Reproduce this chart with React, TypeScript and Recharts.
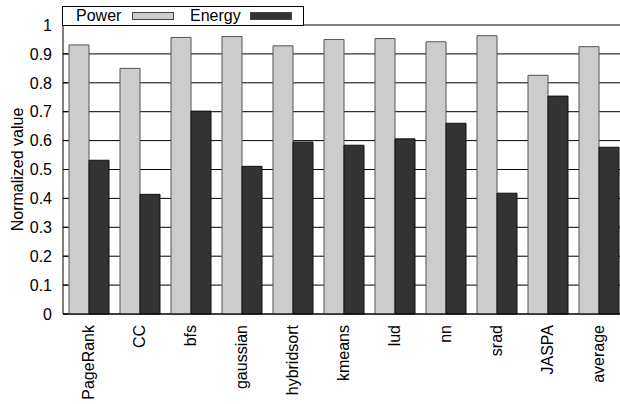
import React from 'react';
import { BarChart, Bar, XAxis, YAxis, CartesianGrid, Label } from 'recharts';

const categories = ['PageRank', 'CC', 'bfs', 'gaussian', 'hybridsort', 'kmeans', 'lud', 'nn', 'srad', 'JASPA', 'average'];
const powerValues = [0.931, 0.85, 0.957, 0.96, 0.928, 0.95, 0.953, 0.942, 0.963, 0.826, 0.925];
const energyValues = [0.532, 0.414, 0.702, 0.511, 0.595, 0.584, 0.606, 0.66, 0.418, 0.754, 0.577];
const yTicks = [0, 0.1, 0.2, 0.3, 0.4, 0.5, 0.6, 0.7, 0.8, 0.9, 1];
const seriesNames = ['Power', 'Energy'];

const FONT = '"Liberation Sans", Arial, Helvetica, sans-serif';
const FS = 16;
const POWER_FILL = '#cccccc';
const ENERGY_FILL = '#333333';

const data = categories.map((name, i) => ({
  name,
  power: powerValues[i],
  energy: energyValues[i],
}));

// rotated category labels hanging below the axis
const XTick = (props: any) => {
  const { x, y, payload } = props;
  return (
    <g transform={`translate(${x},${y + 11})`}>
      <text transform="rotate(-90)" textAnchor="end" dy="0.36em" fontSize={FS} fontFamily={FONT} fill="#000">
        {payload.value}
      </text>
    </g>
  );
};

const YTick = (props: any) => {
  const { x, y, payload } = props;
  return (
    <text x={x} y={y} textAnchor="end" dy="0.36em" fontSize={FS} fontFamily={FONT} fill="#000">
      {String(payload.value)}
    </text>
  );
};

const YLabel = (props: any) => {
  const vb = props.viewBox || { y: 25, height: 289 };
  const cy = vb.y + vb.height / 2;
  return (
    <text x={17} y={cy} transform={`rotate(-90, 17, ${cy})`} textAnchor="middle" dominantBaseline="central" fontSize={FS} fontFamily={FONT} fill="#000">
      Normalized value
    </text>
  );
};

const App: React.FC = () => {
  return (
    <div style={{ position: 'absolute', left: 0, top: 0, width: 620, height: 404, overflow: 'hidden', background: '#fff' }}>
      {/* legend box, gnuplot style, sitting on top of the plot frame */}
      <div
        style={{
          position: 'absolute', left: 62, top: 6, width: 240, height: 18,
          border: '1px solid #000', boxSizing: 'content-box',
          fontFamily: FONT, fontSize: FS, lineHeight: '18px', zIndex: 2, background: '#fff',
        }}
      >
        {seriesNames.map((s, i) => (
          <React.Fragment key={s}>
            <span style={{ position: 'absolute', left: i === 0 ? 13 : 127, top: 0 }}>{s}</span>
            <span
              style={{
                position: 'absolute', left: i === 0 ? 69 : 187, top: 5, width: 40, height: 6,
                background: i === 0 ? POWER_FILL : ENERGY_FILL, border: '1px solid #444',
              }}
            />
          </React.Fragment>
        ))}
      </div>
      <BarChart
        width={624}
        height={404}
        data={data}
        margin={{ top: 25, right: 0, bottom: 0, left: 8 }}
        barGap={0}
        barSize={20}
      >
        <CartesianGrid vertical={false} stroke="#000" strokeWidth={1} />
        <XAxis
          dataKey="name"
          height={90}
          interval={0}
          axisLine={{ stroke: '#000' }}
          tickLine={false}
          tickSize={0}
          tickMargin={0}
          tick={<XTick />}
        />
        <XAxis
          xAxisId="top"
          dataKey="name"
          orientation="top"
          height={0}
          interval={0}
          axisLine={{ stroke: '#000' }}
          tickLine={{ stroke: '#000' }}
          tickSize={-4}
          tickFormatter={() => ''}
        />
        <YAxis
          width={55}
          domain={[0, 1]}
          ticks={yTicks}
          interval={0}
          axisLine={{ stroke: '#000' }}
          tickLine={{ stroke: '#000' }}
          tickSize={-5}
          tickMargin={16}
          tick={<YTick />}
        >
          <Label content={<YLabel />} />
        </YAxis>
        <Bar dataKey="power" name={seriesNames[0]} fill={POWER_FILL} stroke="#555" strokeWidth={1} isAnimationActive={false} />
        <Bar dataKey="energy" name={seriesNames[1]} fill={ENERGY_FILL} stroke="#111" strokeWidth={1} isAnimationActive={false} />
      </BarChart>
    </div>
  );
};

export default App;
